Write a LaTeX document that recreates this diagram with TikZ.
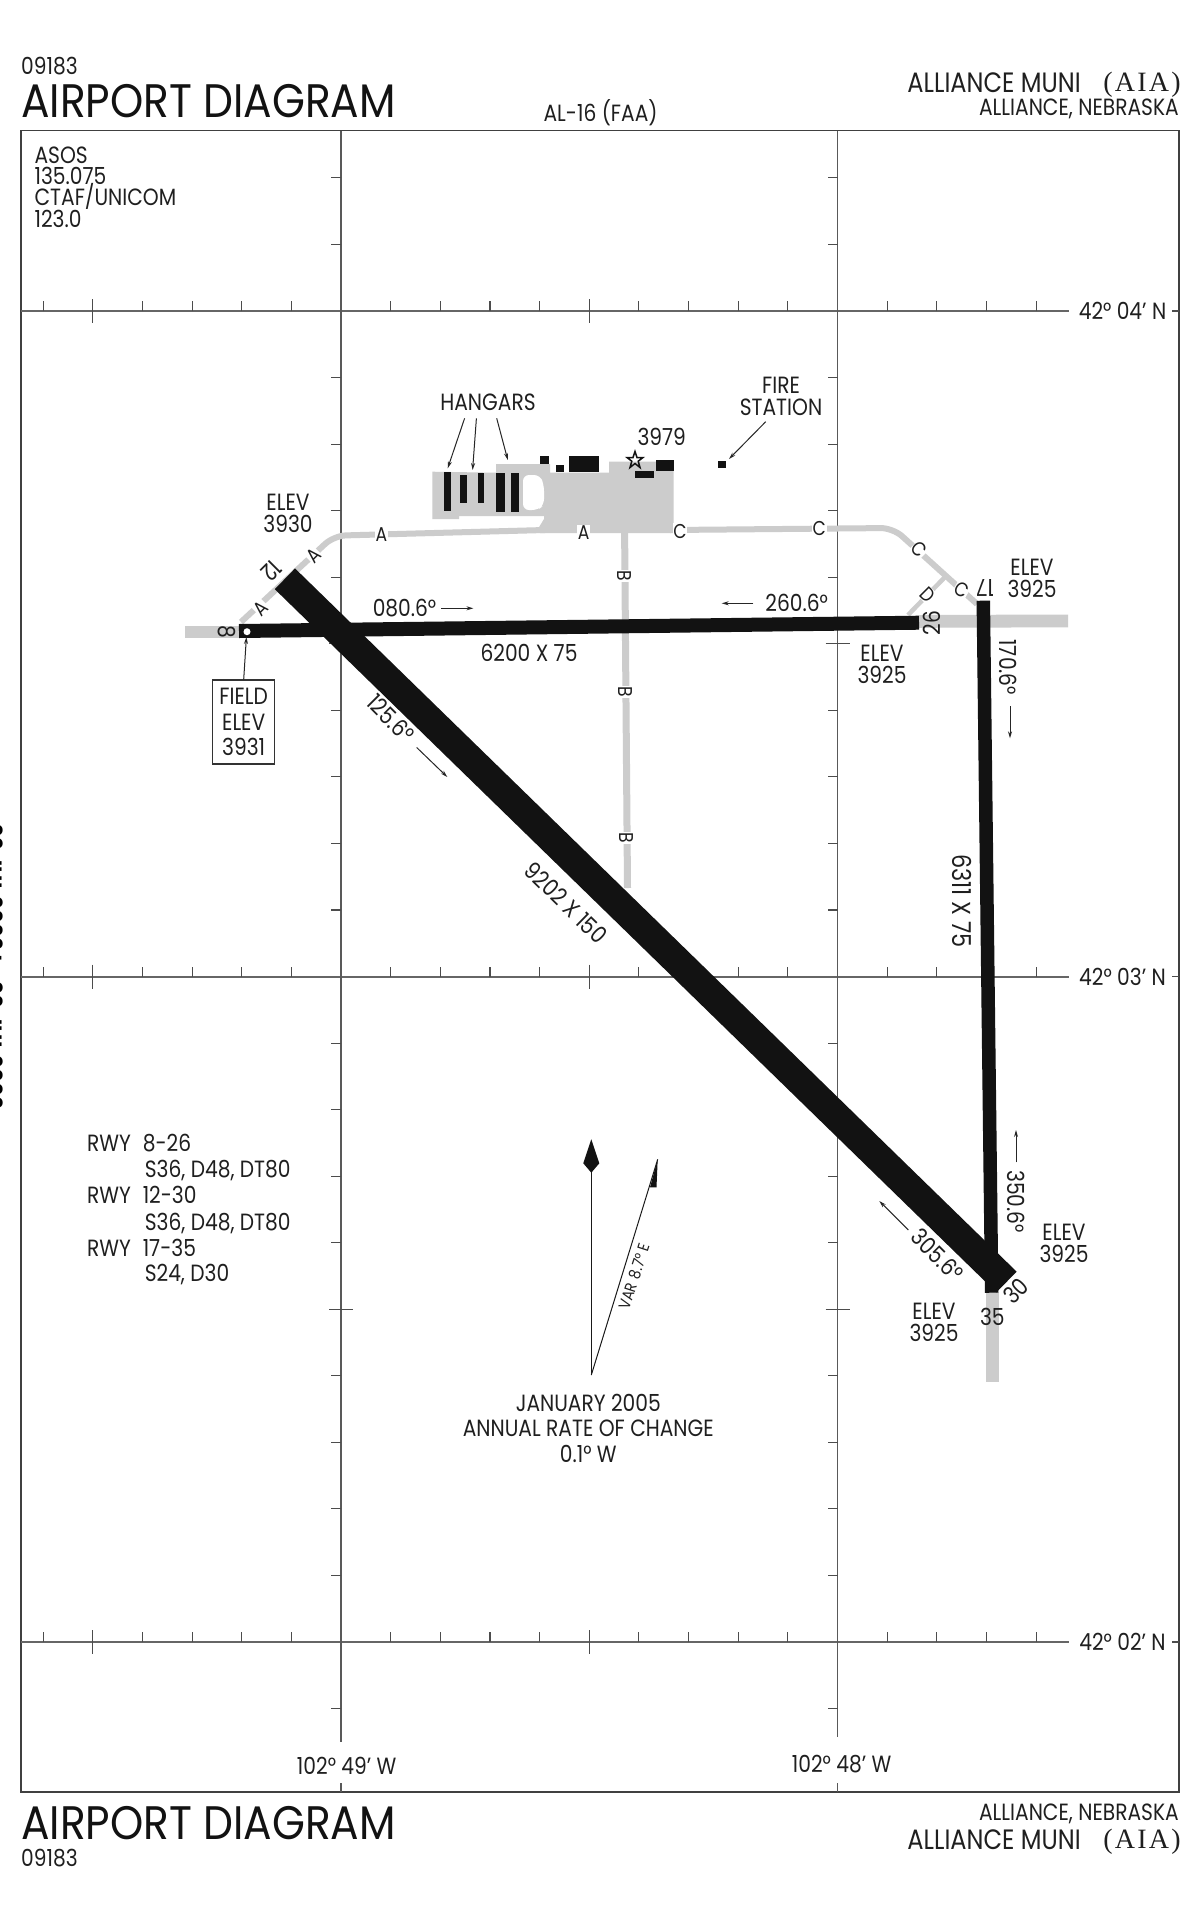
\documentclass[tikz,border=0pt]{standalone}
\usepackage{fontspec}
\setmainfont{Poppins}[FakeStretch=0.86]
\newfontfamily\titlefont{Poppins}[FakeStretch=0.9]
\newfontfamily\idfont{Liberation Serif}[LetterSpace=8]
\usetikzlibrary{calc,backgrounds,arrows.meta}

\begin{document}
\begin{tikzpicture}[%
        x=1pt,y=-1pt,%
        show background rectangle,%
        tight background,%
        background rectangle/.style={fill=white}%
    ]
        \tikzset{%
            frameline/.style={line width=1.6pt,black!75},%
            gridline/.style={line width=1.4pt,black!65},%
            latline/.style={line width=2.2pt,black!60},%
            tickline/.style={line width=1.1pt,black!70},%
            leadline/.style={line width=1pt,black!85,-{Stealth[length=7pt,width=4pt]}},%
            runway/.style={line cap=butt,black!93},%
            taxiway/.style={black!20,line width=6pt,line join=round},%
            overrun/.style={fill=black!20},%
            bldg/.style={fill=black!93},%
            lbl/.style={inner sep=0pt,font=\fontsize{23.5}{22}\selectfont,align=center,text=black!88},%
            lblbig/.style={inner sep=0pt,font=\fontsize{28}{28}\selectfont,align=center,text=black!88},%
            lblid/.style={inner sep=0pt,font=\fontsize{28}{28}\idfont,text=black!88},%
            lbltitle/.style={inner sep=0pt,anchor=base west,font=\fontsize{47}{47}\titlefont,text=black!93},%
            tlbl/.style={inner sep=0.6pt,fill=white,font=\fontsize{20}{20}\selectfont,text=black!88}%
        }%
        \path[use as bounding box] (0,0) rectangle (1200,1922);%

        %
        % Grid
        %
        \draw[frameline] (21,130.5) rectangle (1179,1792);%
        \foreach \lat/\lbltext in {311/04,976.7/03,1642/02} {%
            \draw[latline] (21,\lat) -- (1069,\lat);%
            \foreach \k in {-6,-4,-3,-2,-1,1,2,3,4,6,7,8,9,11,12,13,14} {%
                \draw[tickline] ({341+\k*49.65},\lat) -- ++(0,-10);%
            }%
            \foreach \k in {-5,5} {%
                \draw[tickline] ({341+\k*49.65},\lat) ++(0,-12) -- ++(0,24);%
            }%
            \node[lbl,anchor=center] (lat \lbltext) at (1122.5,\lat) {42° \lbltext' N};%
            \draw[tickline] (1172,\lat) -- (1179,\lat);%
        }%
        \foreach \lon/\lonend in {341/1741.7,837.5/1737} {%
            \draw[gridline] (\lon,130.5) -- (\lon,\lonend);%
            \draw[gridline] (\lon,1783) -- (\lon,1792);%
            \foreach \k in {-2,-1,1,2,3,4,6,7,8,9,11,12,13,14,16,17,18,19,21} {%
                \draw[tickline] (\lon,{311+\k*66.55}) -- ++(-10,0);%
            }%
            \foreach \k in {5,15} {%
                \draw[tickline] (\lon,{311+\k*66.55}) ++(-12,0) -- ++(24,0);%
            }%
        }%

        %
        % Taxiways and overruns
        %
        \fill[black!20] (432.4,471.7) -- (496,472.7) -- (496,464) -- (550,464) -- (550,472.7) -- (609,472.7) -- (609,461.7) -- (673.5,461.7) -- (673.5,533) -- (540,533) -- (538.5,528) -- (544,519) -- (544,516) -- (459,516) -- (459,519) -- (432.4,519) -- cycle;%
        \fill[white,rounded corners=6pt] (523,475) -- (540,475) -- (544,485) -- (544,505) -- (538,510) -- (523,510) -- cycle;%
        \draw[taxiway,rounded corners=12pt] (241,622) -- (334,535.7) -- (545,530);%
        \draw[taxiway,rounded corners=12pt] (670,530) -- (893,528) -- (977,604);%
        \draw[taxiway,line width=4.5pt] (945,577) -- (908,615);%
        \draw[taxiway,line width=7pt] (624.6,531) -- (627.5,888);%
        \fill[overrun] (185,625.7) rectangle (239,638.3);%
        \fill[overrun] (919,615) -- (1068,614.5) -- (1068,627.3) -- (919,627.8) -- cycle;%
        \fill[overrun] (986,1292) -- (999.3,1292) -- (999.3,1381.7) -- (986,1381.7) -- cycle;%

        %
        % Runways
        %
        \draw[runway,line width=14pt] (239,631) -- (919,622.7);%
        \draw[runway,line width=29pt] (284.9,578.8) -- (1006.5,1282);%
        \draw[runway,line width=13.5pt] (983.3,600.7) -- (991.7,1292.7);%
        \fill[white] (247,631.7) circle[radius=3.5];%

        %
        % Buildings
        %
        \foreach \xa/\ya/\xb/\yb in {443.5/471.7/451/510.7,460/475/466.5/502.7,478/473/484/503,496/472.7/505/511.7,511/472.7/519/511.7,540.4/456/549/464,555.7/465/563.7/472.3,569/456/598.5/472,634.5/471/653.6/478,655.5/460/673.5/470.7,718/460.5/726/468} {%
            \fill[bldg] (\xa,\ya) rectangle (\xb,\yb);%
        }%
        \draw[line width=1.5pt,black!93] (635,451.5) -- (637,457.5) -- (643,457.5) -- (638.2,461.2) -- (640,467.5) -- (635,463.5) -- (630,467.5) -- (631.8,461.2) -- (627,457.5) -- (633,457.5) -- cycle;%

        %
        % Taxiway letters
        %
        \foreach \px/\py/\rot/\txt in {381.5/535/0/A,583.6/532.7/0/A,313.8/555.7/45/A,261/608/45/A,624.9/576/-90/B,625.6/691.7/-90/B,626.6/838/-90/B,680/531/0/C,819.3/528.3/0/C,919.3/549.3/-45/C,961.7/589.3/-30/C,927.7/595/-45/D} {%
            \node[tlbl,rotate=\rot] (twy \px) at (\px,\py) {\txt};%
        }%

        %
        % Runway numbers
        %
        \foreach \px/\py/\rot/\txt in {226.5/632/-90/8,271.7/570.7/-135/12,932.3/623.3/90/26,985/588.3/180/17,1016/1290.7/45/30,992.3/1316.7/0/35} {%
            \node[lbl,rotate=\rot] (rwy \txt) at (\px,\py) {\txt};%
        }%

        %
        % Annotations
        %
        \node[lbl] (hangars) at (488,402.7) {HANGARS};%
        \foreach \name/\ax/\bx/\by in {a/464.6/447.7/468.3,b/476.4/472.6/470,c/496.7/507.8/460} {%
            \coordinate (hangar \name) at (\bx,\by);%
            \draw[leadline] (\ax,418.3) -- (hangar \name);%
        }%
        \node[lbl] (fire) at (781,396) {FIRE\\STATION};%
        \draw[leadline] (765.7,421.7) -- (729,459);%
        \node[lbl] (beacon) at (661.7,436.7) {3979};%
        \node[lbl] (elev a) at (288,513) {ELEV\\3930};%
        \node[lbl] (elev b) at (882,664) {ELEV\\3925};%
        \node[lbl] (elev c) at (1032,578) {ELEV\\3925};%
        \node[lbl] (elev d) at (1064,1243) {ELEV\\3925};%
        \node[lbl] (elev e) at (934,1322) {ELEV\\3925};%
        \node[lbl,draw=black!80,line width=1.2pt,minimum width=62pt,minimum height=84pt,font=\fontsize{23.5}{25.7}\selectfont] (field elev) at (243.7,722) {FIELD\\ELEV\\3931};%
        \coordinate (field dot) at (246.4,637);%
        \draw[leadline] (field elev.north) -- (field dot);%

        % Headings
        \node[lbl] (hdg a) at (404.5,608.3) {080.6°};%
        \coordinate (hdg a tip) at (473.4,608.3);%
        \draw[leadline] (441,608.3) -- (hdg a tip);%
        \node[lbl] (hdg b) at (796.7,603.3) {260.6°};%
        \coordinate (hdg b tip) at (721.7,603.3);%
        \draw[leadline] (753.3,603.3) -- (hdg b tip);%
        \node[lbl,rotate=-90] (hdg c) at (1008.3,667.3) {170.6°};%
        \coordinate (hdg c tip) at (1010,738.3);%
        \draw[leadline] (1010,706) -- (hdg c tip);%
        \node[lbl,rotate=-90] (hdg d) at (1016,1201.7) {350.6°};%
        \coordinate (hdg d tip) at (1016,1130);%
        \draw[leadline] (1016,1162.3) -- (hdg d tip);%
        \node[lbl,rotate=-45] (hdg e) at (391,718) {125.6°};%
        \coordinate (hdg e tip) at (447.3,777);%
        \draw[leadline] (416.7,747.5) -- (hdg e tip);%
        \node[lbl,rotate=-45] (hdg f) at (937.3,1255) {305.6°};%
        \coordinate (hdg f tip) at (879.3,1201);%
        \draw[leadline] (908.3,1230) -- (hdg f tip);%

        % Dimensions
        \node[lbl] (dim a) at (529,652.7) {6200 X 75};%
        \node[lbl,rotate=-44.3] (dim b) at (566,903) {9202 X 150};%
        \node[lbl,rotate=-90,font=\fontsize{26}{26}\selectfont] (dim c) at (962,901) {6311 X 75};%

        %
        % Magnetic variation
        %
        \coordinate (north foot) at (591.3,1375);%
        \coordinate (north tail) at (591.3,1172);%
        \coordinate (var tip) at (657.7,1159.3);%
        \draw[line width=1pt,black!90] (north foot) -- (north tail);%
        \fill[black!93] (591.3,1139.3) -- (599.3,1163.3) -- (591.3,1172.7) -- (583.3,1163.3) -- cycle;%
        \draw[line width=1pt,black!90] (north foot) -- (var tip);%
        \fill[black!93] (var tip) -- (656.5,1187.3) -- (650,1187.3) -- cycle;%
        \node[lbl,rotate=72,font=\fontsize{16}{16}\selectfont] (var) at (634,1276.7) {VAR\,\,8.7° E};%
        \node[lbl,font=\fontsize{23.5}{25.6}\selectfont] (rate) at (588.3,1428.3) {JANUARY 2005\\ANNUAL RATE OF CHANGE\\0.1° W};%

        %
        % Text blocks
        %
        \foreach \py/\txt in {163.8/ASOS,184.7/135.075,205.5/{CTAF/UNICOM},227.6/123.0} {%
            \node[lbl,anchor=base west] (comms \py) at (34.4,\py) {\txt};%
        }%
        \foreach \py/\px/\txt in {1151.5/87/RWY\,\,\,8-26,1177.5/144.6/{S36, D48, DT80},1203.5/87/RWY\,\,\,12-30,1230.5/144.6/{S36, D48, DT80},1256/87/RWY\,\,\,17-35,1281.5/144.6/{S24, D30}} {%
            \node[lbl,anchor=base west] (rwy line \py) at (\px,\py) {\txt};%
        }%
        \node[lbl] (lon a) at (346.7,1765.7) {102° 49' W};%
        \node[lbl] (lon b) at (841.6,1764) {102° 48' W};%

        %
        % Header and footer
        %
        \node[lbl,anchor=west] (code top) at (21,66) {09183};%
        \node[lbltitle] (title top) at (21,117) {AIRPORT DIAGRAM};%
        \node[lbl] (chart id) at (600.6,113) {AL-16 (FAA)};%
        \node[lblbig,anchor=east] (name top) at (1081,83) {ALLIANCE MUNI};%
        \node[lblid,anchor=east] (id top) at (1181,85) {(AIA)};%
        \node[lbl,anchor=east] (city top) at (1179,109) {ALLIANCE, NEBRASKA};%
        \node[lbltitle] (title bottom) at (21,1839) {AIRPORT DIAGRAM};%
        \node[lbl,anchor=west] (code bottom) at (21,1857.7) {09183};%
        \node[lbl,anchor=east] (city bottom) at (1179,1814) {ALLIANCE, NEBRASKA};%
        \node[lblbig,anchor=east] (name bottom) at (1081,1840) {ALLIANCE MUNI};%
        \node[lblid,anchor=east] (id bottom) at (1181,1841.6) {(AIA)};%
        \node[inner sep=0pt,rotate=-90,anchor=north,font=\fontsize{25}{25}\bfseries] (dates) at (3.5,966.5) {02 JUL 2009 to 30 JUL 2009};%
    \end{tikzpicture}
\end{document}
